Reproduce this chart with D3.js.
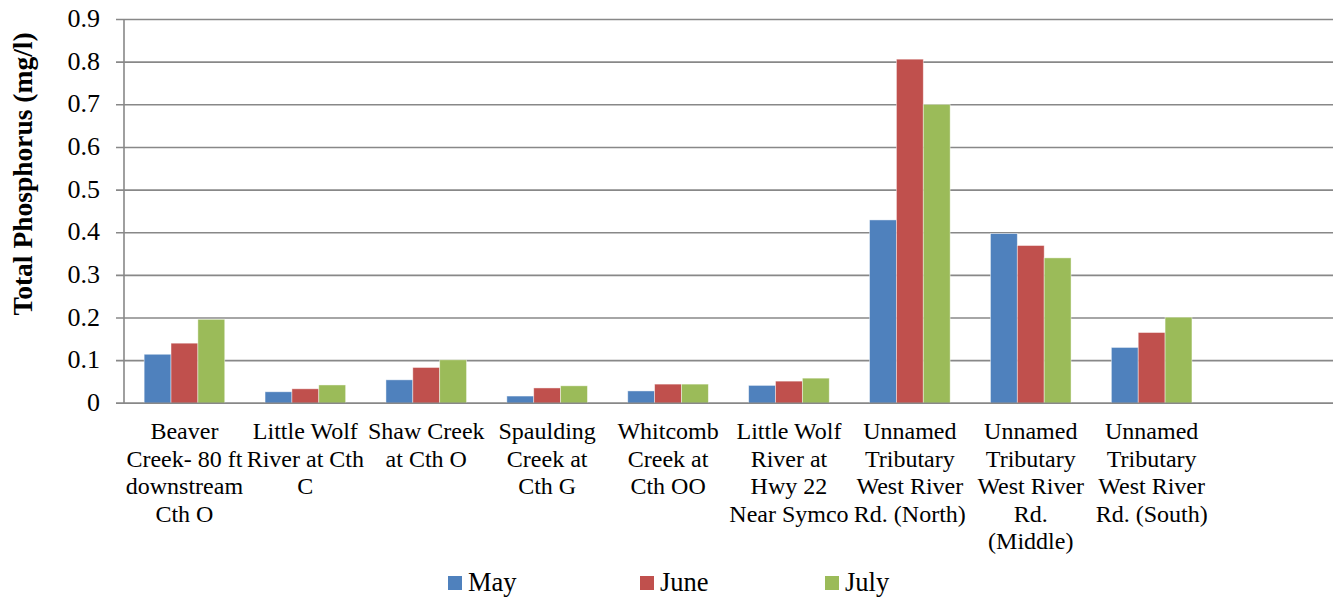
<!DOCTYPE html>
<html>
<head>
<meta charset="utf-8">
<script src="https://cdn.jsdelivr.net/npm/d3@7/dist/d3.min.js"></script>
<style>
  html, body { margin: 0; padding: 0; background: #fff; }
  svg { display: block; }
  text { font-family: "Liberation Serif", "Times New Roman", serif; fill: #000; }
</style>
</head>
<body>
<svg id="chart" width="1340" height="599"></svg>
<script>
// ---- data ----
const categories = [
  "Beaver Creek- 80 ft downstream Cth O",
  "Little Wolf River at Cth C",
  "Shaw Creek at Cth O",
  "Spaulding Creek at Cth G",
  "Whitcomb Creek at Cth OO",
  "Little Wolf River at Hwy 22 Near Symco",
  "Unnamed Tributary West River Rd. (North)",
  "Unnamed Tributary West River Rd. (Middle)",
  "Unnamed Tributary West River Rd. (South)",
  ""
];
const tickLabelLines = [
  ["Beaver", "Creek- 80 ft", "downstream", "Cth O"],
  ["Little Wolf", "River at Cth", "C"],
  ["Shaw Creek", "at Cth O"],
  ["Spaulding", "Creek at", "Cth G"],
  ["Whitcomb", "Creek at", "Cth OO"],
  ["Little Wolf", "River at", "Hwy 22", "Near Symco"],
  ["Unnamed", "Tributary", "West River", "Rd. (North)"],
  ["Unnamed", "Tributary", "West River", "Rd.", "(Middle)"],
  ["Unnamed", "Tributary", "West River", "Rd. (South)"],
  []
];
const seriesNames = ["May", "June", "July"];
const mayValues  = [0.115, 0.027, 0.055, 0.017, 0.029, 0.042, 0.430, 0.398, 0.131, null];
const juneValues = [0.141, 0.034, 0.084, 0.036, 0.045, 0.052, 0.807, 0.370, 0.166, null];
const julyValues = [0.197, 0.043, 0.102, 0.041, 0.045, 0.059, 0.701, 0.341, 0.202, null];
const yTicks = [0, 0.1, 0.2, 0.3, 0.4, 0.5, 0.6, 0.7, 0.8, 0.9];
const yTickLabels = ["0", "0.1", "0.2", "0.3", "0.4", "0.5", "0.6", "0.7", "0.8", "0.9"];
const yTitle = "Total Phosphorus (mg/l)";
const colors = ["#4F81BD", "#C0504D", "#9BBB59"];

const seriesValues = [mayValues, juneValues, julyValues];

(function draw() {
  const svg = d3.select("#chart");
  const plotLeft = 124, plotRight = 1333, plotTop = 19.5, plotBottom = 403.3;
  const gridColor = "#888888";

  const x0 = d3.scaleBand().domain(categories.map((c, i) => i)).range([plotLeft, plotRight]).paddingInner(0).paddingOuter(0);
  const x1 = d3.scaleBand().domain(seriesNames).range([0, x0.bandwidth()]).paddingInner(0).paddingOuter(0.75);
  const y = d3.scaleLinear().domain([0, 0.9]).range([plotBottom, plotTop]);

  // gridlines + y tick marks
  svg.append("g").selectAll("line").data(yTicks).join("line")
    .attr("x1", plotLeft - 8).attr("x2", plotRight)
    .attr("y1", d => y(d)).attr("y2", d => y(d))
    .attr("stroke", gridColor).attr("stroke-width", 1.6);

  // y axis line
  svg.append("line")
    .attr("x1", plotLeft).attr("x2", plotLeft).attr("y1", y(0.9)).attr("y2", y(0))
    .attr("stroke", gridColor).attr("stroke-width", 1.6);

  // y tick labels
  svg.append("g").selectAll("text").data(yTicks).join("text")
    .attr("x", 100).attr("y", d => y(d) + 7.5)
    .attr("text-anchor", "end")
    .style("font-size", "26px")
    .text((d, i) => yTickLabels[i]);

  // bars
  const groups = svg.append("g").selectAll("g").data(categories.map((c, i) => i)).join("g")
    .attr("transform", i => `translate(${x0(i)},0)`);
  groups.selectAll("rect").data(i => seriesNames.map((s, k) => ({s, k, v: seriesValues[k][i]})).filter(d => d.v != null))
    .join("rect")
    .attr("x", d => x1(d.s))
    .attr("width", x1.bandwidth())
    .attr("y", d => y(d.v))
    .attr("height", d => y(0) - y(d.v))
    .attr("fill", d => colors[d.k])
    .attr("stroke", "rgba(255,255,255,0.55)")
    .attr("stroke-width", 0.8);

  // x axis line
  svg.append("line")
    .attr("x1", plotLeft - 8).attr("x2", plotRight).attr("y1", y(0)).attr("y2", y(0))
    .attr("stroke", gridColor).attr("stroke-width", 1.6);

  // category labels
  const lab = svg.append("g").selectAll("text").data(categories.map((c, i) => i)).join("text")
    .attr("text-anchor", "middle")
    .style("font-size", "24px");
  lab.selectAll("tspan").data(i => tickLabelLines[i].map(t => ({t, i})))
    .join("tspan")
    .attr("x", d => x0(d.i) + x0.bandwidth() / 2)
    .attr("y", (d, j) => 439.3 + j * 27.4)
    .text(d => d.t);

  // y title
  svg.append("text")
    .attr("transform", "translate(32,174) rotate(-90)")
    .attr("text-anchor", "middle")
    .style("font-size", "27.5px").style("font-weight", "bold")
    .text(yTitle);

  // legend
  const legendX = [448, 640, 825];
  const leg = svg.append("g").selectAll("g").data(seriesNames).join("g")
    .attr("transform", (d, i) => `translate(${legendX[i]},576)`);
  leg.append("rect").attr("width", 14).attr("height", 14).attr("fill", (d, i) => colors[i]);
  leg.append("text").attr("x", 20).attr("y", 14.5).style("font-size", "26.5px").text(d => d);
})();
</script>
</body>
</html>
